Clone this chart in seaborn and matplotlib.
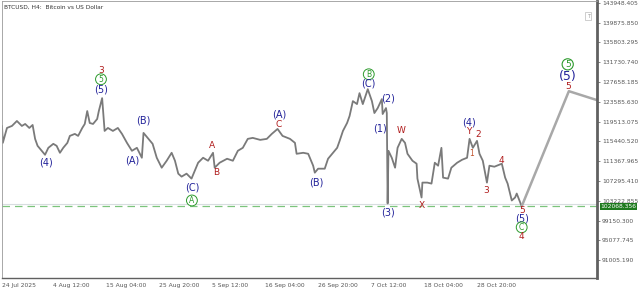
import matplotlib
matplotlib.use("Agg")
import matplotlib.pyplot as plt
import seaborn as sns
import pandas as pd

# ---- data (H4 bar index from left edge, price) ----
bars = [0, 1, 6, 12, 18, 24, 28, 33, 37, 40, 43, 48, 52, 56, 62, 66, 70, 74, 79, 82,
        88, 92, 97, 100, 103, 106, 110, 115, 117, 121, 124, 128, 134, 140, 145, 151, 157, 163, 169, 171,
        176, 182, 187, 193, 199, 205, 209, 213, 217, 223, 229, 233, 237, 243, 249, 255, 257, 263, 272, 279,
        285, 291, 297, 303, 312, 320, 326, 333, 339, 348, 354, 356, 364, 370, 376, 378, 382, 390, 394, 399,
        405, 408, 412, 417, 420, 424, 429, 432, 436, 442, 447, 450, 454, 459, 460, 464, 465, 466, 467, 471,
        475, 478, 483, 487, 490, 496, 501, 502, 507, 508, 514, 519, 523, 527, 531, 533, 539, 543, 550, 556,
        562, 565, 569, 574, 577, 581, 586, 589, 595, 604, 608, 611, 616, 620, 622, 628]
prices = [118600, 115124, 118190, 118600, 119621, 118600, 119008, 118190, 118803, 115942,
          114511, 113489, 112671, 114102, 114920, 114511, 113080, 114102, 115124, 116555,
          116964, 116555, 118190, 119008, 121665, 119212, 119008, 120030, 121665, 124322,
          117577, 118190, 117577, 118190, 116964, 115124, 113489, 114102, 112058, 117168,
          116146, 114920, 112058, 110014, 111445, 113080, 111445, 108788, 108175, 108788,
          107766, 109401, 111036, 112058, 111445, 113080, 110014, 111036, 111854, 111445,
          113489, 114102, 115942, 116146, 115737, 115942, 116964, 117986, 116555, 115942,
          115124, 112876, 113080, 112876, 110423, 108992, 109810, 109810, 111854, 112876,
          114102, 115533, 117577, 119212, 120643, 123709, 123096, 125344, 123096, 126162,
          123709, 121256, 122278, 124118, 121052, 122278, 121256, 102656, 113489, 112058,
          110014, 114102, 115942, 115124, 112876, 111445, 110832, 107766, 103882, 106948,
          106948, 106744, 111036, 110423, 114102, 107970, 107766, 110014, 111036, 111649,
          112058, 115942, 114102, 115533, 112876, 111445, 106948, 110423, 110219, 110832,
          107970, 106744, 103269, 103882, 104700, 102068]

proj_bars = [628, 685, 719]
proj_prices = [102068, 125753, 123913]

current_price = 102068.356
ytick_values = [143948.405, 139875.850, 135803.295, 131730.740, 127658.185, 123585.630,
                119513.075, 115440.520, 111367.965, 107295.410, 103222.855, 99150.300,
                95077.745, 91005.190]
xtick_bars = [0, 62, 126, 190, 254, 318, 382, 446, 510, 574]
xtick_labels = ["24 Jul 2025", "4 Aug 12:00", "15 Aug 04:00", "25 Aug 20:00", "5 Sep 12:00",
                "16 Sep 04:00", "26 Sep 20:00", "7 Oct 12:00", "18 Oct 04:00", "28 Oct 20:00"]

BLUE = "#23239a"
RED = "#b01c1c"
GREEN = "#2c9a2c"

# wave labels: text, bar, price, kind
wave_labels = [
    ("3", 119.6, 130045, "red"), ("5", 119.6, 128206, "circ"), ("(5)", 119.6, 126162, "blue"),
    ("(4)", 53.1, 111036, "blue"),
    ("(B)", 170.3, 119621, "blue"), ("(A)", 157, 111445, "blue"),
    ("(C)", 229.5, 105926, "blue"), ("A", 229.5, 103269, "circ"),
    ("A", 253.6, 114511, "red"), ("B", 258.5, 108992, "red"),
    ("(A)", 334.5, 121052, "blue"), ("C", 334.5, 118803, "red"),
    ("(B)", 380.4, 106948, "blue"),
    ("B", 443.2, 129227, "circ"), ("(C)", 443.2, 127388, "blue"),
    ("(2)", 466.2, 124322, "blue"), ("(1)", 456.5, 117986, "blue"),
    ("W", 481.9, 117577, "red"), ("(3)", 466.2, 100816, "blue"), ("X", 507.2, 102247, "red"),
    ("(4)", 564, 119212, "blue"), ("Y", 564, 117372, "red"), ("2", 574.9, 116759, "red"),
    ("1", 567.6, 112876, "orange"), ("3", 584.5, 105313, "red"), ("4", 603.9, 111445, "red"),
    ("5", 628, 101225, "red"), ("(5)", 628, 99590, "blue"), ("C", 628, 97750, "circ"),
    ("4", 628, 95911, "red"),
    ("5", 683.6, 131271, "circbig"), ("(5)", 683.6, 128819, "bluebig"), ("5", 683.6, 126775, "red"),
]

# ---- figure ----
sns.set_style("white")
plt.rcParams['font.family'] = ['DejaVu Sans']
fig = plt.figure(figsize=(6.4, 2.88), dpi=100)
ax = fig.add_axes([2 / 640, 10 / 288, 595 / 640, 277 / 288])

df = pd.DataFrame({"bar": bars, "price": prices})
sns.lineplot(data=df, x="bar", y="price", ax=ax, color="#7a7a7a", linewidth=1.3,
             sort=False, estimator=None)
dfp = pd.DataFrame({"bar": proj_bars, "price": proj_prices})
sns.lineplot(data=dfp, x="bar", y="price", ax=ax, color="#a8a8a8", linewidth=1.8,
             sort=False, estimator=None)

ax.axhline(current_price + 550, color="#d8dde0", linewidth=0.8, zorder=0)
ax.axhline(current_price, color="#7cc47c", linewidth=0.9, linestyle=(0, (6, 4)), zorder=0)

ax.set_xlim(0, 719)
ax.set_ylim(87326, 144300)
ax.set_xlabel("")
ax.set_ylabel("")

ax.yaxis.tick_right()
ax.set_yticks(ytick_values)
ax.set_yticklabels([f"{v:.3f}" for v in ytick_values])
ax.tick_params(axis="y", labelsize=4.3, colors="#555555", length=2, width=0.5, pad=1.5)
ax.set_xticks(xtick_bars)
ax.set_xticklabels(xtick_labels, ha="left")
ax.tick_params(axis="x", labelsize=4.3, colors="#555555", length=2, width=0.5, pad=1.5)

for side in ["left", "top"]:
    ax.spines[side].set_color("#9a9a9a")
    ax.spines[side].set_linewidth(0.6)
ax.spines["right"].set_color("#606060")
ax.spines["right"].set_linewidth(2.0)
ax.spines["bottom"].set_color("#606060")
ax.spines["bottom"].set_linewidth(1.0)

# current price box
ax.text(1.006, (current_price - 87326) / (144300 - 87326), f"{current_price:.3f}",
        transform=ax.transAxes, fontsize=4.3, color="white", va="center", ha="left",
        bbox=dict(boxstyle="square,pad=0.15", fc="#1e7a1e", ec="none"), clip_on=False)

ax.text(0.003, 0.985, "BTCUSD, H4:  Bitcoin vs US Dollar", transform=ax.transAxes,
        fontsize=4.2, color="#333333", va="top", ha="left")
ax.text(0.985, 0.945, "T", transform=ax.transAxes, fontsize=3.5, color="#999999",
        va="center", ha="center",
        bbox=dict(boxstyle="square,pad=0.3", fc="white", ec="#bbbbbb", lw=0.5))

for txt, bx, py, kind in wave_labels:
    if kind == "blue":
        ax.text(bx, py, txt, color=BLUE, fontsize=7, ha="center", va="center")
    elif kind == "bluebig":
        ax.text(bx, py, txt, color=BLUE, fontsize=9, ha="center", va="center")
    elif kind == "red":
        ax.text(bx, py, txt, color=RED, fontsize=6.5, ha="center", va="center")
    elif kind == "orange":
        ax.text(bx, py, txt, color="#c0502a", fontsize=5.5, ha="center", va="center")
    elif kind == "circ":
        ax.text(bx, py, txt, color=GREEN, fontsize=5.5, ha="center", va="center",
                bbox=dict(boxstyle="circle,pad=0.12", fc="white", ec=GREEN, lw=0.7))
    elif kind == "circbig":
        ax.text(bx, py, txt, color=GREEN, fontsize=6.5, ha="center", va="center",
                bbox=dict(boxstyle="circle,pad=0.12", fc="white", ec=GREEN, lw=0.8))

fig.savefig("out.png", dpi=100)
